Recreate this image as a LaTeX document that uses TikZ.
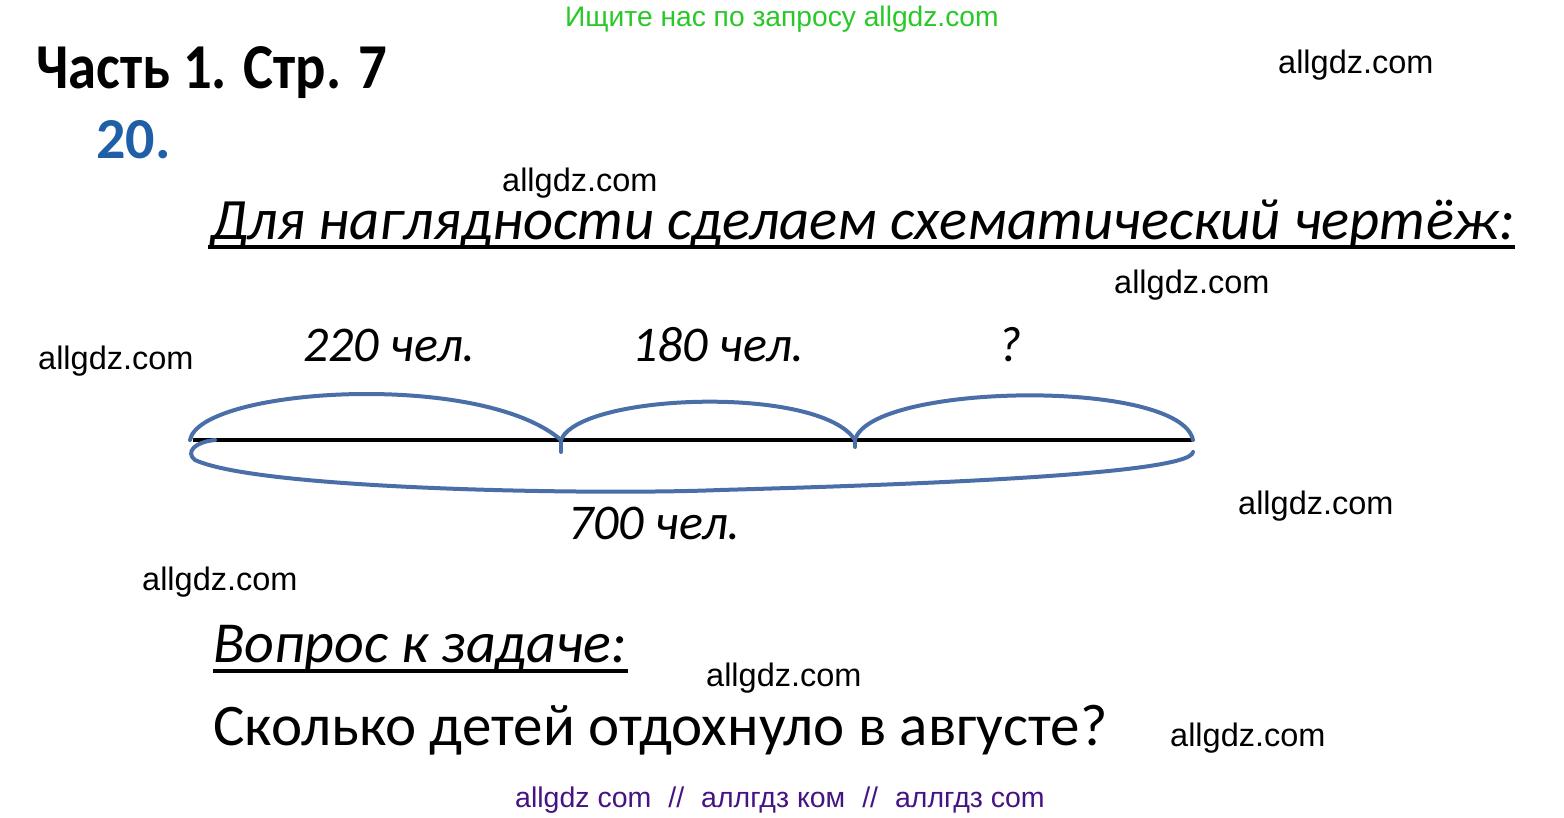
\documentclass[tikz,border=0pt]{standalone}
\usepackage{fontspec}
\setmainfont{Carlito}
\newfontfamily\wmfont{Liberation Sans}
\definecolor{arcblue}{RGB}{74,110,168}
\definecolor{numblue}{RGB}{31,95,168}
\definecolor{wmgreen}{RGB}{40,200,40}
\definecolor{wmpurple}{RGB}{70,20,130}
\tikzset{
  wm/.style={anchor=base west, inner sep=0pt, font=\wmfont\fontsize{32.5}{38}\selectfont, text=black},
  lbl/.style={anchor=base west, inner sep=0pt, font=\itshape\fontsize{50}{60}\selectfont},
  arcline/.style={draw=arcblue, line width=4pt, line cap=round},
  uline/.style={line width=3.5pt}
}
\begin{document}
\begin{tikzpicture}[x=1pt,y=-1pt]
\useasboundingbox (0,0) rectangle (1564,818);
% header
\node[anchor=base west, inner sep=0pt, text=wmgreen, font=\wmfont\fontsize{28.2}{33}\selectfont] (ad) at (565,27) {Ищите нас по запросу allgdz.com};
\node[anchor=base west, inner sep=0pt, font=\bfseries\fontsize{64}{72}\selectfont] (part) at (36,89) {\scalebox{0.885}[1]{Часть 1. Стр. 7}};
\node[anchor=base west, inner sep=0pt, text=numblue, font=\bfseries\fontsize{58}{68}\selectfont] (num) at (96,159) {20.};
\node[anchor=base west, inner sep=0pt, font=\itshape\fontsize{58.6}{68}\selectfont] (title) at (210,240) {Для наглядности сделаем схематический чертёж:};
\draw[uline] (208,247) -- (1515,247);
% watermarks
\node[wm] (w1) at (1278,74) {allgdz.com};
\node[wm] (w2) at (502,192) {allgdz.com};
\node[wm] (w3) at (1114,294) {allgdz.com};
\node[wm] (w4) at (38,370) {allgdz.com};
\node[wm] (w5) at (1238,514) {allgdz.com};
\node[wm] (w6) at (142,590) {allgdz.com};
\node[wm] (w7) at (706,686) {allgdz.com};
\node[wm] (w8) at (1170,746) {allgdz.com};
% labels
\node[lbl] (l1) at (303,362) {220 чел.};
\node[lbl] (l2) at (632,362) {180 чел.};
\node[lbl] (l3) at (998,362) {?};
\node[lbl] (l4) at (568,539) {700 чел.};
% diagram
\coordinate (A) at (190,440);
\coordinate (B) at (561,440);
\coordinate (C) at (855,440);
\coordinate (D) at (1193,440);
\draw[line width=3.5pt] (193,440) -- (D);
\draw[arcline] (A) .. controls (200,388) and (480,370) .. (B);
\draw[arcline] (B) .. controls (580,393) and (820,385) .. (C);
\draw[arcline] (C) .. controls (870,383) and (1180,378) .. (D);
\draw[arcline] (B) -- (561,452);
\draw[arcline] (C) -- (855,447);
\draw[arcline] (215,440) .. controls (195,442) and (185,452) .. (195,460)
  .. controls (260,490) and (600,495) .. (720,490)
  .. controls (900,485) and (1190,475) .. (1193,452);
% question
\node[anchor=base west, inner sep=0pt, font=\itshape\fontsize{58}{68}\selectfont] (q) at (213,662) {Вопрос к задаче:};
\draw[uline] (213,671) -- (628,671);
\node[anchor=base west, inner sep=0pt, font=\fontsize{59}{69}\selectfont] (ans) at (213,745) {Сколько детей отдохнуло в августе?};
\node[anchor=base west, inner sep=0pt, text=wmpurple, font=\wmfont\fontsize{28.5}{33}\selectfont] (foot) at (515,807) {allgdz com\hspace{17pt}//\hspace{17pt}аллгдз ком\hspace{17pt}//\hspace{17pt}аллгдз com};
\end{tikzpicture}
\end{document}
